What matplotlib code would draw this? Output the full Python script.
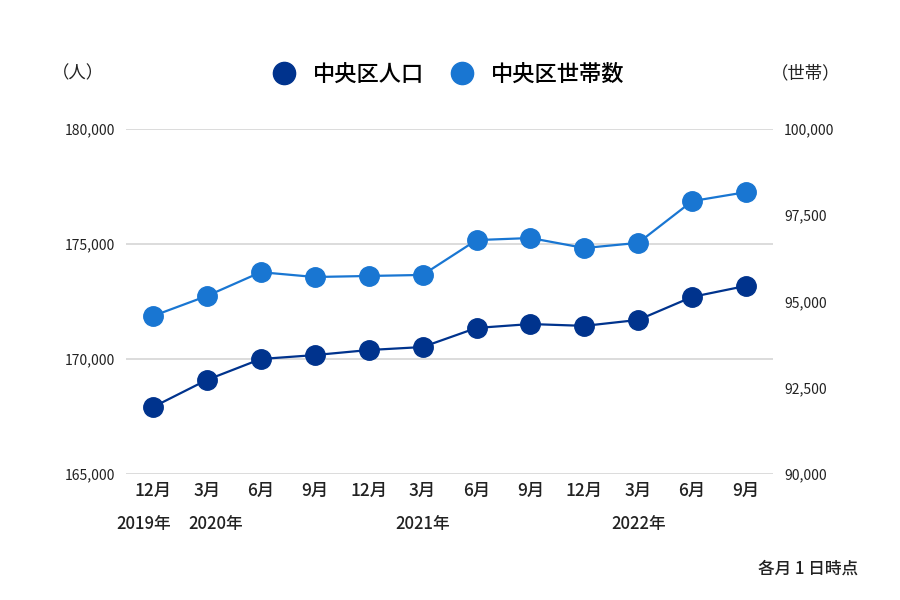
import matplotlib.pyplot as plt
from matplotlib.lines import Line2D
from matplotlib.ticker import FuncFormatter

plt.rcParams["font.family"] = ["Noto Sans CJK JP", "DejaVu Sans"]

months = ["12月", "3月", "6月", "9月", "12月", "3月", "6月", "9月", "12月", "3月", "6月", "9月"]
years = [(0, "2019年", -0.18), (1, "2020年", 0.17), (5, "2021年", 0.0), (9, "2022年", 0.0)]
population = [167910, 169090, 170000, 170170, 170390, 170520, 171350, 171520, 171440, 171700, 172700, 173180]
households = [94580, 95160, 95850, 95710, 95740, 95770, 96780, 96840, 96550, 96700, 97910, 98170]

pop_color = "#00338D"
hh_color = "#1976D2"

fig = plt.figure(figsize=(9, 6), dpi=100)
ax = fig.add_axes([0.14, 0.21, 0.719, 0.575])
ax2 = ax.twinx()

x = list(range(len(months)))
ax.plot(x, population, color=pop_color, lw=1.6, marker="o", ms=14, zorder=3)
ax2.plot(x, households, color=hh_color, lw=1.6, marker="o", ms=14, zorder=3)

ax.set_xlim(-0.5, len(months) - 0.5)
ax.set_ylim(165000, 180000)
ax.set_yticks([165000, 170000, 175000, 180000])
ax2.set_ylim(90000, 100000)
ax2.set_yticks([90000, 92500, 95000, 97500, 100000])

fmt = FuncFormatter(lambda v, p: f"{int(v):,}")
ax.yaxis.set_major_formatter(fmt)
ax2.yaxis.set_major_formatter(fmt)

ax.grid(axis="y", color="#dcdcdc", lw=1.4)
ax.set_axisbelow(True)
for a in (ax, ax2):
    for s in a.spines.values():
        s.set_visible(False)
    a.tick_params(length=0, labelsize=10, colors="#222222")
ax.tick_params(axis="y", pad=8)
ax2.tick_params(axis="y", pad=8)

ax.set_xticks(x)
ax.set_xticklabels(months, fontsize=12.5, fontweight="medium")
ax.tick_params(axis="x", pad=6)

trans = ax.get_xaxis_transform()
for i, label, dx in years:
    ax.text(i + dx, -0.145, label, transform=trans, ha="center", va="center",
            fontsize=12, fontweight="medium", color="#222222")

fig.text(0.058, 0.877, "（人）", ha="left", va="center", fontsize=12.5, color="#222222")
fig.text(0.857, 0.877, "（世帯）", ha="left", va="center", fontsize=12.5, color="#222222")
fig.text(0.953, 0.053, "各月 1 日時点", ha="right", va="center", fontsize=12,
         fontweight="medium", color="#222222")

handles = [
    Line2D([], [], color=pop_color, marker="o", ls="none", ms=16),
    Line2D([], [], color=hh_color, marker="o", ls="none", ms=16),
]
fig.legend(handles, ["中央区人口", "中央区世帯数"], loc="center", bbox_to_anchor=(0.492, 0.877),
           ncol=2, frameon=False, prop={"size": 16, "weight": "medium"},
           handletextpad=0.3, columnspacing=0.7)

fig.savefig("out.png", dpi=100)
